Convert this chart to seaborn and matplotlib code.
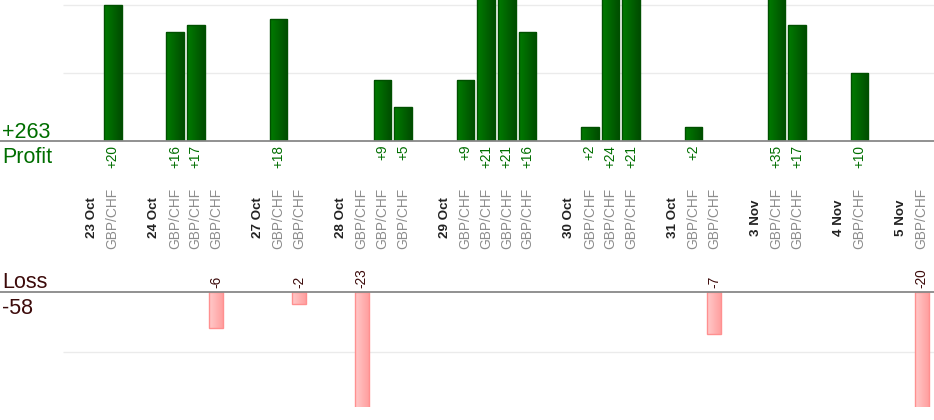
import numpy as np
import pandas as pd
import matplotlib
matplotlib.use("Agg")
import matplotlib.pyplot as plt
from matplotlib.colors import LinearSegmentedColormap
from matplotlib.transforms import blended_transform_factory
import seaborn as sns

# data
days = ["23 Oct", "24 Oct", "27 Oct", "28 Oct", "29 Oct",
        "30 Oct", "31 Oct", "3 Nov", "4 Nov", "5 Nov"]
pair = "GBP/CHF"
trades = [[20], [16, 17, -6], [18, -2], [-23, 9, 5], [9, 21, 21, 16],
          [2, 24, 21], [2, -7], [35, 17], [10], [-20]]
total_profit = "+263"
total_loss = "-58"

# one slot for the day name, one per trade, then a blank gap
rows = []
for day, day_trades in zip(days, trades):
    rows.append({"label": day, "kind": "day", "pips": np.nan})
    for p in day_trades:
        rows.append({"label": pair, "kind": "trade", "pips": p})
    rows.append({"label": "", "kind": "gap", "pips": np.nan})
rows = rows[:-1]
df = pd.DataFrame(rows)
df["slot"] = df.index.astype(str)
order = list(df["slot"])

profit_df = df[df["pips"] > 0]
loss_df = df[df["pips"] < 0]

sns.set_theme(style="white")
plt.rcParams["font.family"] = ["Liberation Sans", "DejaVu Sans"]

GREEN = "#006e00"
LOSS_TXT = "#3c0a0a"
GRID = "#ebebeb"
ZERO = "#888888"

W, H = 934, 420
fig = plt.figure(figsize=(W / 100, H / 100), dpi=100)
ax_top = fig.add_axes([0, 1 - 141 / H, 1, 141 / H])
ax_bot = fig.add_axes([0, 1 - 407 / H, 1, 115 / H])

sns.barplot(data=profit_df, x="slot", y="pips", order=order, ax=ax_top,
            color="#006400", width=0.85, errorbar=None,
            edgecolor="#005000", linewidth=1)
sns.barplot(data=loss_df, x="slot", y="pips", order=order, ax=ax_bot,
            color="#ffb0b0", width=0.68, errorbar=None,
            edgecolor="#ff9090", linewidth=1)

# x range: slot 0 sits at 92px, slots are ~20.74px apart
step = 20.74
x_left = -92 / step
x_right = (W - 92) / step
grid_start = (63 - 92) / step

top_ylim = (0, 141 / 6.8)
bot_ylim = (-115 / 6.0, 0)

green_cmap = LinearSegmentedColormap.from_list("g", ["#007c00", "#004c00"])
pink_cmap = LinearSegmentedColormap.from_list("p", ["#ffcaca", "#ff9c9c"])
grad = np.linspace(0, 1, 64).reshape(1, -1)


def shade(ax, cmap, ylim):
    # left-to-right gradient inside each bar, cut at the visible range
    for patch in list(ax.patches):
        x0, w = patch.get_x(), patch.get_width()
        y0, h = patch.get_y(), patch.get_height()
        if np.isnan(h) or h == 0:
            continue
        lo = max(min(y0, y0 + h), ylim[0])
        hi = min(max(y0, y0 + h), ylim[1])
        im = ax.imshow(grad, extent=[x0, x0 + w, lo, hi],
                       aspect="auto", cmap=cmap, zorder=patch.get_zorder() - 0.1,
                       interpolation="bilinear")
        im.set_clip_path(patch)
        patch.set_facecolor("none")


shade(ax_top, green_cmap, top_ylim)
shade(ax_bot, pink_cmap, bot_ylim)

for ax in (ax_top, ax_bot):
    ax.set_xlim(x_left, x_right)
    ax.axis("off")

ax_top.set_ylim(*top_ylim)
ax_bot.set_ylim(*bot_ylim)

for y in (10, 20):
    ax_top.hlines(y, grid_start, x_right, color=GRID, lw=1, zorder=0)
ax_bot.hlines(-10, grid_start, x_right, color=GRID, lw=1, zorder=0)
ax_top.axhline(0, color=ZERO, lw=1.3, clip_on=False, zorder=5)
ax_bot.axhline(0, color=ZERO, lw=1.3, clip_on=False, zorder=5)

# values under / over the zero line
for i, row in profit_df.iterrows():
    ax_top.annotate(f"+{int(row['pips'])}", xy=(i, 0), xytext=(0, -4),
                    textcoords="offset pixels", rotation=90, ha="center",
                    va="top", fontsize=9.8, color=GREEN, annotation_clip=False)
for i, row in loss_df.iterrows():
    ax_bot.annotate(f"{int(row['pips'])}", xy=(i, 0), xytext=(0, 4),
                    textcoords="offset pixels", rotation=90, ha="center",
                    va="bottom", fontsize=9.8, color=LOSS_TXT, annotation_clip=False)

# day names and pair names between the panels
trans = blended_transform_factory(ax_top.transData, fig.transFigure)
for i, row in df.iterrows():
    if row["kind"] == "day":
        ax_top.text(i, 1 - 218 / H, row["label"], transform=trans, rotation=90,
                    ha="center", va="center", fontsize=9.6, fontweight="bold",
                    color="#222222", clip_on=False)
    elif row["kind"] == "trade":
        ax_top.text(i, 1 - 218 / H, row["label"], transform=trans, rotation=90,
                    ha="center", va="center", fontsize=9.9, color="#8c8c8c",
                    clip_on=False)

# totals on the left
fig.text(2 / W, 1 - 138 / H, total_profit, fontsize=15.5, color=GREEN, va="baseline")
fig.text(2 / W, 1 - 163 / H, "Profit", fontsize=15.5, color=GREEN, va="baseline")
fig.text(2 / W, 1 - 288 / H, "Loss", fontsize=15.5, color=LOSS_TXT, va="baseline")
fig.text(2 / W, 1 - 314 / H, total_loss, fontsize=15.5, color=LOSS_TXT, va="baseline")

fig.savefig("out.png", dpi=100, facecolor="white")
plt.close(fig)
